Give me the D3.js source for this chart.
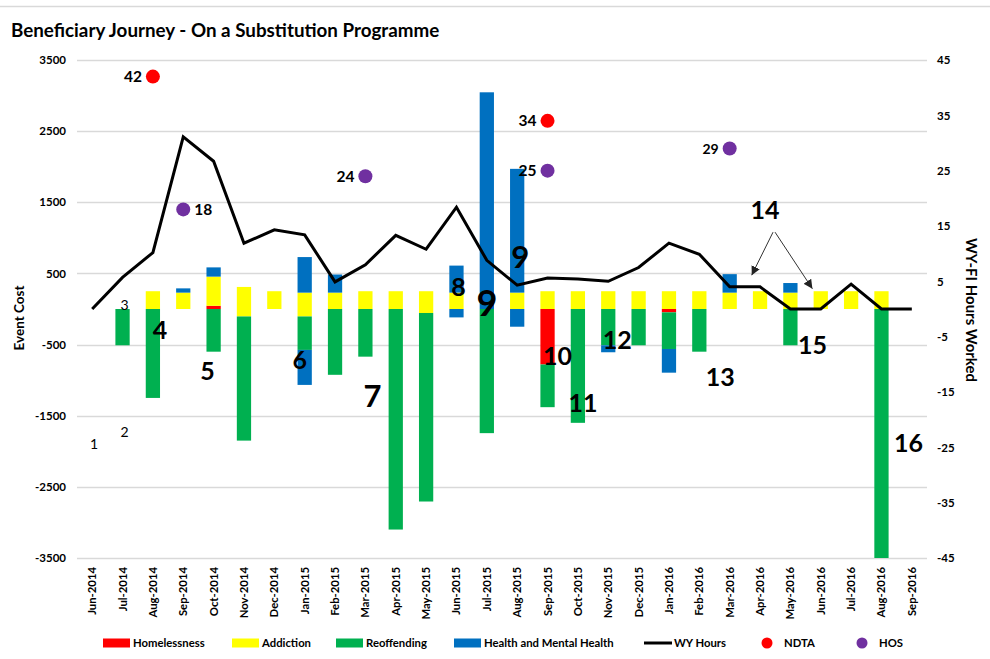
<!DOCTYPE html>
<html>
<head>
<meta charset="utf-8">
<script src="https://cdn.jsdelivr.net/npm/d3@7"></script>
<style>
  html, body { margin: 0; padding: 0; background: #fff; }
  svg { display: block; font-family: Lato, "Open Sans", "Liberation Sans", sans-serif; }
</style>
</head>
<body>
<svg id="chart" width="990" height="659"></svg>
<script>
// ---------- DATA ----------
const months = ["Jun-2014","Jul-2014","Aug-2014","Sep-2014","Oct-2014","Nov-2014","Dec-2014",
  "Jan-2015","Feb-2015","Mar-2015","Apr-2015","May-2015","Jun-2015","Jul-2015","Aug-2015",
  "Sep-2015","Oct-2015","Nov-2015","Dec-2015","Jan-2016","Feb-2016","Mar-2016","Apr-2016",
  "May-2016","Jun-2016","Jul-2016","Aug-2016","Sep-2016"];

const homelessness   = [0,0,0,0,45,0,0, 0,0,0,0,0,0,0,0, -780,0,0,0,-47,0,0,0, 0,0,0,0,0];
const addiction      = [0,0,250,230,410,310,250, 230,230,250,250,250,230,0,230, 250,250,250,250,250,250,230,250, 230,250,250,250,0];
const addictionBelow = [0,0,0,0,0,-105,0, -105,0,0,0,-56,0,0,0, 0,0,0,0,0,0,0,0, 0,0,0,0,0];
const reoffending    = [0,-510,-1250,0,-600,-1745,0, -470,-925,-670,-3100,-2650,0,-1745,0, -600,-1600,-510,-510,-515,-600,0,0, -510,0,0,-3500,0];
const health         = [0,0,0,60,130,0,0, 500,255,0,0,0,380,3046,1740, 0,0,0,0,0,0,260,0, 135,0,0,0,0];
const healthBelow    = [0,0,0,0,0,0,0, -492,0,0,0,0,-118,0,-249, 0,0,-98,0,-333,0,0,0, 0,0,0,0,0];

const wyHours = [0,5.7,10.2,31.1,26.7,11.9,14.3, 13.4,4.9,8.0,13.3,10.8,18.4,8.8,4.3,
  5.6,5.4,5.0,7.5,11.9,9.9,4.0,4.0, 0,0,4.5,0,0];

const ndtaMonths = ["Aug-2014","Sep-2015"];
const ndtaValues = [42,34];
const hosMonths  = ["Sep-2014","Mar-2015","Sep-2015","Mar-2016"];
const hosValues  = [18,24,25,29];

const leftTicks  = [3500,2500,1500,500,-500,-1500,-2500,-3500];
const rightTicks = [45,35,25,15,5,-5,-15,-25,-35,-45];

// journey step annotations: label, month, level (event cost units)
const noteLabels = ["1","2","3","4","5","6","7","8","9","9","10","11","12","13","14","15","16"];
const noteMonths = ["Jun-2014","Jul-2014","Jul-2014","Aug-2014","Oct-2014","Jan-2015","Mar-2015","Jun-2015","Jul-2015","Aug-2015","Sep-2015","Oct-2015","Nov-2015","Feb-2016","Apr-2016","May-2016","Aug-2016"];
const noteLevels = [-1893,-1725,60,-291,-867,-710,-1219,313,89,735,-655,-1317,-431,-951,1396,-502,-1880];

// ---------- STYLE / LAYOUT ----------
const noteShift = [2,2,2,7,-6,-5,7,2,0,3,10,5,9,21,5,22,27];
const noteSize  = [14,14,14,25,25,25,31,25,36,31,25,25,25,25,25,25,25];
const noteBold  = [false,false,false,true,true,true,true,true,true,true,true,true,true,true,true,true,true];

const colors = { homelessness:"#FF0000", addiction:"#FFFF00", reoffending:"#00B050", health:"#0070C0", ndta:"#FF0000", hos:"#7030A0" };

const svg = d3.select("#chart");
const W = 990, H = 659;
const plot = { left: 77, right: 927, top: 60, bottom: 558 };

svg.append("line").attr("x1",0).attr("x2",W).attr("y1",6.5).attr("y2",6.5)
  .attr("stroke","#d9d9d9").attr("stroke-width",1.5);

svg.append("text").attr("x",11).attr("y",37)
  .attr("font-size",18.8).attr("font-weight","bold").attr("fill","#000")
  .text("Beneficiary Journey - On a Substitution Programme");

const x = d3.scaleBand().domain(months).range([plot.left, plot.right]).paddingInner(0.53).paddingOuter(0.265);
const xc = m => x(m) + x.bandwidth()/2;
const y = d3.scaleLinear().domain([-3500,3500]).range([plot.bottom, plot.top]);
const y2 = d3.scaleLinear().domain([-45,45]).range([plot.bottom, plot.top]);
const plainNum = d => String(d);

// gridlines
svg.append("g").selectAll("line").data(leftTicks).join("line")
  .attr("x1",plot.left).attr("x2",plot.right)
  .attr("y1",d=>Math.round(y(d))+0.5).attr("y2",d=>Math.round(y(d))+0.5)
  .attr("stroke","#d9d9d9").attr("stroke-width",1.3);

// left axis
const yAxis = d3.axisLeft(y).tickValues(leftTicks).tickFormat(plainNum).tickSize(0).tickPadding(0);
const gl = svg.append("g").attr("transform",`translate(${plot.left-11},0)`).call(yAxis);
gl.select(".domain").remove();
gl.selectAll("text").attr("font-size",11.5).attr("font-weight","bold").attr("fill","#000")
  .attr("font-family","Lato, sans-serif");

// right axis
const yAxisR = d3.axisRight(y2).tickValues(rightTicks).tickFormat(plainNum).tickSize(0).tickPadding(0);
const gr = svg.append("g").attr("transform",`translate(${plot.right+10},0)`).call(yAxisR);
gr.select(".domain").remove();
gr.selectAll("text").attr("font-size",11.5).attr("font-weight","bold").attr("fill","#000")
  .attr("font-family","Lato, sans-serif");

// x axis
const xAxis = d3.axisBottom(x).tickSize(0).tickPadding(0);
const gx = svg.append("g").attr("transform",`translate(0,${plot.bottom})`).call(xAxis);
gx.select(".domain").remove();
gx.selectAll("text")
  .attr("font-size",11.3).attr("font-weight","bold").attr("fill","#000")
  .attr("font-family","Lato, sans-serif")
  .attr("text-anchor","end").attr("dy","0.35em")
  .attr("transform","translate(0,9) rotate(-90)");

// axis titles
svg.append("text").attr("transform","translate(24,318) rotate(-90)")
  .attr("text-anchor","middle").attr("font-size",13.5).attr("font-weight","bold").text("Event Cost");
svg.append("text").attr("transform","translate(966,310) rotate(90)")
  .attr("text-anchor","middle").attr("font-size",15).attr("font-weight","bold").text("WY-FI Hours Worked");

// stacked bars
const keys = ["homelessness","addiction","addictionBelow","reoffending","health","healthBelow"];
const keyColor = { homelessness:colors.homelessness, addiction:colors.addiction, addictionBelow:colors.addiction,
  reoffending:colors.reoffending, health:colors.health, healthBelow:colors.health };
const table = months.map((m,i)=>({ month:m, homelessness:homelessness[i], addiction:addiction[i],
  addictionBelow:addictionBelow[i], reoffending:reoffending[i], health:health[i], healthBelow:healthBelow[i] }));
const stack = d3.stack().keys(keys).offset(d3.stackOffsetDiverging)(table);

svg.append("clipPath").attr("id","plotclip").append("rect")
  .attr("x",plot.left).attr("y",plot.top).attr("width",plot.right-plot.left).attr("height",plot.bottom-plot.top+1);

const barsG = svg.append("g").attr("clip-path","url(#plotclip)");
stack.forEach(layer=>{
  barsG.append("g").attr("fill",keyColor[layer.key])
    .selectAll("rect").data(layer.filter(d=>d[1]!==d[0])).join("rect")
    .attr("x",d=>x(d.data.month)).attr("width",x.bandwidth())
    .attr("y",d=>y(Math.max(d[0],d[1])))
    .attr("height",d=>Math.abs(y(d[0])-y(d[1])));
});

// WY hours line
const line = d3.line().x((d,i)=>xc(months[i])).y(d=>y2(d));
svg.append("path").datum(wyHours).attr("d",line)
  .attr("fill","none").attr("stroke","#000").attr("stroke-width",3).attr("stroke-linejoin","miter");

// NDTA dots
const dotR = 7;
svg.append("g").selectAll("circle").data(ndtaValues).join("circle")
  .attr("cx",(d,i)=>xc(ndtaMonths[i])).attr("cy",d=>y2(d)).attr("r",dotR).attr("fill",colors.ndta);
svg.append("g").selectAll("text").data(ndtaValues).join("text")
  .attr("x",(d,i)=>xc(ndtaMonths[i])-11).attr("y",d=>y2(d)).attr("dy","0.36em")
  .attr("text-anchor","end").attr("font-size",15.5).attr("font-weight","bold").text(d=>d);

// HOS dots
svg.append("g").selectAll("circle").data(hosValues).join("circle")
  .attr("cx",(d,i)=>xc(hosMonths[i])).attr("cy",d=>y2(d)).attr("r",dotR).attr("fill",colors.hos);
svg.append("g").selectAll("text").data(hosValues).join("text")
  .attr("x",(d,i)=> i===0 ? xc(hosMonths[i])+11 : xc(hosMonths[i])-11)
  .attr("y",d=>y2(d)).attr("dy","0.36em")
  .attr("text-anchor",(d,i)=> i===0 ? "start" : "end")
  .attr("font-size",(d,i)=> i===3 ? 14 : 15.5).attr("font-weight","bold").text(d=>d);

// annotations
svg.append("g").selectAll("text").data(noteLabels).join("text")
  .attr("x",(d,i)=>xc(noteMonths[i])+noteShift[i]).attr("y",(d,i)=>y(noteLevels[i]))
  .attr("dy","0.36em").attr("text-anchor","middle")
  .attr("font-size",(d,i)=>noteSize[i]).attr("font-weight",(d,i)=>noteBold[i]?"bold":"normal")
  .text(d=>d);

// arrows for 14
const defs = svg.append("defs");
defs.append("marker").attr("id","arrow").attr("viewBox","0 0 10 10").attr("refX",10).attr("refY",5)
  .attr("markerWidth",9).attr("markerHeight",9).attr("markerUnits","userSpaceOnUse").attr("orient","auto")
  .append("path").attr("d","M0,0 L10,5 L0,10 z").attr("fill","#222");
const a14 = { x: xc("Apr-2016")+13, y: y(1080) };
[[xc("Mar-2016")+22, y(475)],[xc("May-2016")+22, y(285)]].forEach(([tx,ty],k)=>{
  svg.append("line").attr("x1",a14.x+k*2).attr("y1",a14.y).attr("x2",tx).attr("y2",ty)
    .attr("stroke","#333").attr("stroke-width",1).attr("marker-end","url(#arrow)");
});

// legend
const legend = svg.append("g").attr("font-size",11.3).attr("font-weight","bold");
const legItems = [
  {t:"Homelessness", type:"rect", c:colors.homelessness, x:103},
  {t:"Addiction", type:"rect", c:colors.addiction, x:232},
  {t:"Reoffending", type:"rect", c:colors.reoffending, x:336},
  {t:"Health and Mental Health", type:"rect", c:colors.health, x:454},
  {t:"WY Hours", type:"line", c:"#000", x:644},
  {t:"NDTA", type:"dot", c:colors.ndta, x:761},
  {t:"HOS", type:"dot", c:colors.hos, x:856}
];
const ly = 643;
legItems.forEach(it=>{
  if (it.type==="rect") {
    legend.append("rect").attr("x",it.x).attr("y",ly-4.5).attr("width",27).attr("height",9).attr("fill",it.c);
    legend.append("text").attr("x",it.x+30).attr("y",ly).attr("dy","0.36em").text(it.t);
  } else if (it.type==="line") {
    legend.append("line").attr("x1",it.x).attr("x2",it.x+28).attr("y1",ly).attr("y2",ly).attr("stroke",it.c).attr("stroke-width",3);
    legend.append("text").attr("x",it.x+30).attr("y",ly).attr("dy","0.36em").text(it.t);
  } else {
    legend.append("circle").attr("cx",it.x+6).attr("cy",ly).attr("r",5.5).attr("fill",it.c);
    legend.append("text").attr("x",it.x+23).attr("y",ly).attr("dy","0.36em").text(it.t);
  }
});
</script>
</body>
</html>
